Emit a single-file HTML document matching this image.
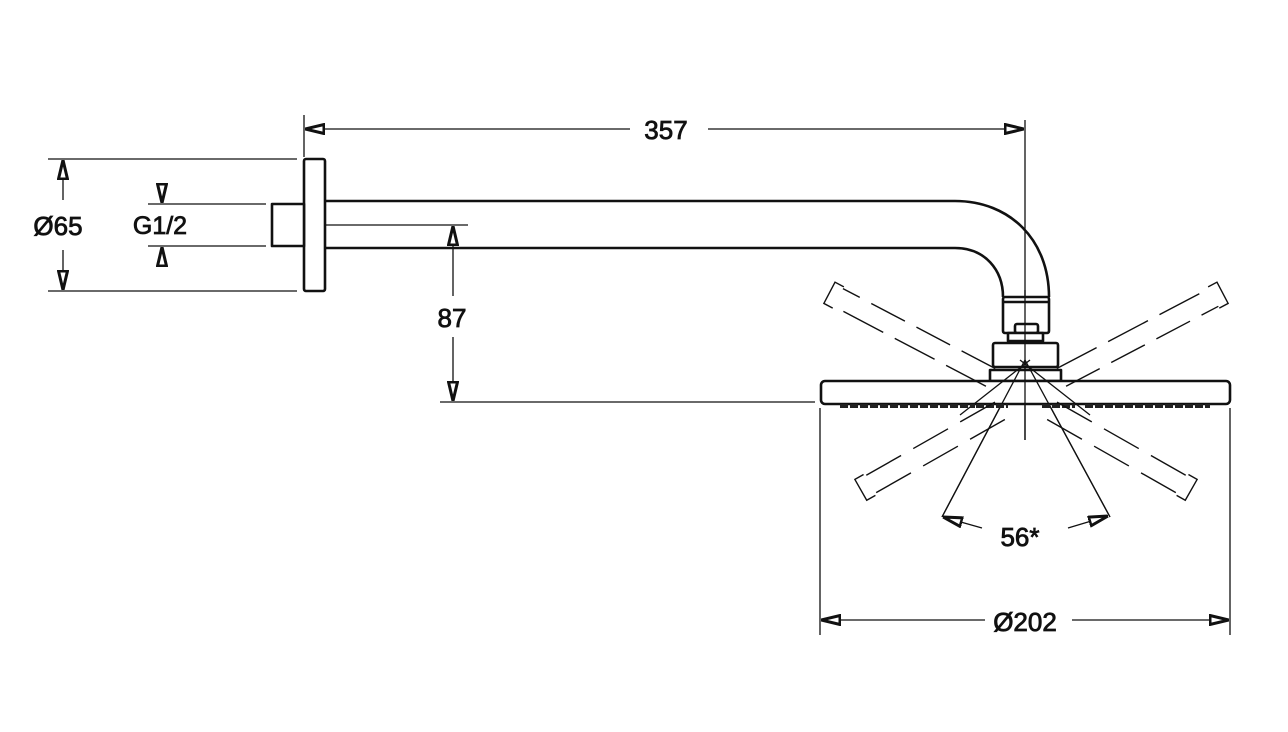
<!DOCTYPE html>
<html><head><style>html,body{margin:0;padding:0;background:#fff}svg{display:block}</style></head>
<body>
<svg width="1288" height="732" viewBox="0 0 1288 732" xmlns="http://www.w3.org/2000/svg" font-family="'Liberation Sans', sans-serif">
<defs>
<marker id="a" viewBox="0 0 20 12" refX="20" refY="6" markerWidth="20" markerHeight="12" markerUnits="userSpaceOnUse" orient="auto-start-reverse">
<path d="M1,1.5 L20,6 L1,10.5 Z" fill="#fff" stroke="#111" stroke-width="3"/>
</marker>
</defs>
<g stroke="#111" fill="none" stroke-width="1.3">
<line x1="304" y1="115" x2="304" y2="157"/>
<line x1="1025" y1="120" x2="1025" y2="440"/>
<line x1="48" y1="159" x2="297" y2="159"/>
<line x1="48" y1="291" x2="297" y2="291"/>
<line x1="148" y1="204" x2="266" y2="204"/>
<line x1="148" y1="246" x2="266" y2="246"/>
<line x1="312" y1="225" x2="468" y2="225"/>
<line x1="440" y1="402" x2="815" y2="402"/>
<line x1="820" y1="408" x2="820" y2="635"/>
<line x1="1230" y1="408" x2="1230" y2="635"/>
<line x1="305" y1="129" x2="630" y2="129" marker-start="url(#a)"/>
<line x1="708" y1="129" x2="1024" y2="129" marker-end="url(#a)"/>
<line x1="63" y1="200" x2="63" y2="160" marker-end="url(#a)"/>
<line x1="63" y1="250" x2="63" y2="290" marker-end="url(#a)"/>
<line x1="162" y1="184" x2="162" y2="203" marker-end="url(#a)"/>
<line x1="162" y1="266" x2="162" y2="247" marker-end="url(#a)"/>
<line x1="453" y1="296" x2="453" y2="226" marker-end="url(#a)"/>
<line x1="453" y1="337" x2="453" y2="401" marker-end="url(#a)"/>
<line x1="985" y1="620" x2="821" y2="620" marker-end="url(#a)"/>
<line x1="1072" y1="620" x2="1229" y2="620" marker-end="url(#a)"/>
<line x1="1025" y1="360" x2="942" y2="517"/>
<line x1="1025" y1="360" x2="1110" y2="517"/>
<line x1="982" y1="528" x2="943" y2="517" marker-end="url(#a)"/>
<line x1="1068" y1="528" x2="1108" y2="516" marker-end="url(#a)"/>
</g>
<g stroke="#111" fill="#fff" stroke-width="2.6" stroke-linejoin="round">
<rect x="304" y="159" width="21" height="132" rx="2"/>
<rect x="272" y="204" width="32" height="42"/>
<path d="M325,201 L955,201 C1010,201 1049,240 1049,297 M325,248 L955,248 C985,248 1003,270 1003,297" fill="none"/>
<rect x="1003" y="297" width="46" height="36" rx="2"/>
<line x1="1003" y1="302" x2="1049" y2="302"/>
<rect x="1015" y="324" width="23" height="9" rx="2"/>
<rect x="1008" y="333" width="35" height="8"/>
<rect x="993" y="343" width="65" height="24" rx="2"/>
<rect x="990" y="370" width="71" height="11"/>
<rect x="821" y="381" width="409" height="23" rx="4"/>
</g>
<g stroke="#111" stroke-width="1.3">
<line x1="1025" y1="290" x2="1025" y2="440"/>
<line x1="1030" y1="360" x2="960" y2="415"/>
<line x1="1020" y1="360" x2="1090" y2="415"/>
<line x1="1025" y1="360" x2="942" y2="517"/>
<line x1="1025" y1="360" x2="1110" y2="517"/>
</g>
<g stroke="#222" stroke-width="4" stroke-dasharray="8 2">
<line x1="840" y1="406" x2="975" y2="406"/>
<line x1="976" y1="406" x2="1008" y2="406"/>
<line x1="1042" y1="406" x2="1075" y2="406"/>
<line x1="1085" y1="406" x2="1210" y2="406"/>
</g>
<g stroke="#111" stroke-width="1.4" fill="none">
<g transform="translate(1026,396) rotate(207.7)">
<line x1="40" y1="-10" x2="212" y2="-10" stroke-dasharray="45 13"/><line x1="40" y1="10" x2="212" y2="10" stroke-dasharray="38 13"/>
<path d="M212,-12 L222,-12 L222,12 L212,12"/></g>
<g transform="translate(1026,396) rotate(-27.7)">
<line x1="40" y1="-10" x2="212" y2="-10" stroke-dasharray="45 13"/><line x1="40" y1="10" x2="212" y2="10" stroke-dasharray="38 13"/>
<path d="M212,-12 L222,-12 L222,12 L212,12"/></g>
<g transform="translate(1026,396) rotate(150.4)">
<line x1="30" y1="-10" x2="180" y2="-10" stroke-dasharray="40 14"/><line x1="30" y1="10" x2="180" y2="10" stroke-dasharray="40 14"/>
<path d="M180,-12 L190,-12 L190,12 L180,12"/></g>
<g transform="translate(1026,396) rotate(29.6)">
<line x1="30" y1="-10" x2="180" y2="-10" stroke-dasharray="40 14"/><line x1="30" y1="10" x2="180" y2="10" stroke-dasharray="40 14"/>
<path d="M180,-12 L190,-12 L190,12 L180,12"/></g>
</g>
<g fill="#111" stroke="#111" stroke-width="0.8" font-size="26" text-anchor="middle">
<text x="666" y="139">357</text>
<text x="58" y="235">Ø65</text>
<text x="160" y="234" font-size="25">G1/2</text>
<text x="452" y="327">87</text>
<text x="1020" y="546">56*</text>
<text x="1025" y="631">Ø202</text>
</g>
</svg>
</body></html>
